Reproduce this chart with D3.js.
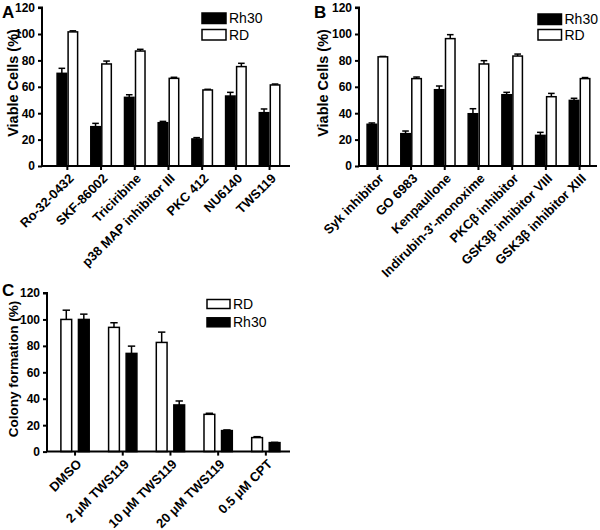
<!DOCTYPE html>
<html><head><meta charset="utf-8">
<script src="https://cdn.jsdelivr.net/npm/d3@7"></script>
<style>
body{margin:0;background:#fff;}
svg{display:block;font-family:Arial,"Liberation Sans",Helvetica,sans-serif;}
</style></head><body>
<svg id="chart" width="600" height="530"></svg>
<script>
// ---- Data ----
const catsA = ["Ro-32-0432","SKF-86002","Triciribine","p38 MAP inhibitor III","PKC 412","NU6140","TWS119"];
const rh30A = [70.2, 29.8, 52, 32.8, 20.5, 53, 40.4];
const rh30AErr = [3.8, 2.5, 2, 1, 1, 2.8, 2.8];
const rdA = [101.6, 77.3, 87.1, 66.4, 57.6, 75.3, 61.4];
const rdAErr = [0.8, 2.2, 1.3, 0.8, 0.5, 2.5, 0.7];

const catsB = ["Syk inhibitor","GO 6983","Kenpaullone","Indirubin-3'-monoxime","PKCβ  inhibitor","GSK3β inhibitor VIII","GSK3β inhibitor XIII"];
const rh30B = [31.6, 24.5, 57.8, 39.6, 54, 23.2, 49.7];
const rh30BErr = [1, 2, 2.8, 3.8, 1.8, 2.3, 1.6];
const rdB = [82.7, 66.2, 96.5, 77.3, 83.3, 52.5, 66.2];
const rdBErr = [0.3, 1.2, 3, 2.5, 1.5, 2.5, 0.8];

const catsC = ["DMSO","2 μM TWS119","10 μM TWS119","20 μM TWS119","0.5  μM CPT"];
const rdC = [100, 94, 82.6, 28.2, 10.6];
const rdCErr = [7, 3.5, 7.8, 0.8, 0.7];
const rh30C = [100, 74.3, 35.3, 15.9, 6.8];
const rh30CErr = [4, 5.5, 3, 0.5, 0.2];

const yTicks = [0, 20, 40, 60, 80, 100, 120];

const svg = d3.select("#chart");

function panel(cfg){
  const g = svg.append("g");
  const y = d3.scaleLinear().domain([0,120]).range([cfg.y0, cfg.y1]);
  const x = d3.scaleBand().domain(cfg.cats).range(cfg.xr).padding(0);
  const xs = d3.scaleBand().domain(cfg.series.map(s=>s.name)).range([0, x.bandwidth()])
    .paddingInner(cfg.pi).paddingOuter(cfg.po);

  // bars
  cfg.series.forEach(s=>{
    const sg = g.append("g");
    cfg.cats.forEach((c,i)=>{
      const bx = x(c) + xs(s.name);
      const bw = xs.bandwidth();
      const v = s.vals[i], e = s.errs[i];
      const cx = bx + bw/2;
      sg.append("line").attr("x1",cx).attr("x2",cx).attr("y1",y(v)).attr("y2",y(v+e))
        .attr("stroke","#000").attr("stroke-width",1.5);
      sg.append("line").attr("x1",cx-bw*0.3).attr("x2",cx+bw*0.3).attr("y1",y(v+e)).attr("y2",y(v+e))
        .attr("stroke","#000").attr("stroke-width",1.5);
      sg.append("rect").attr("x",bx+0.75).attr("width",bw-1.5)
        .attr("y",y(v)).attr("height",y(0)-y(v))
        .attr("fill",s.fill).attr("stroke","#000").attr("stroke-width",1.5);
    });
  });

  // y axis
  const ya = g.append("g").attr("transform",`translate(${cfg.ax},0)`)
    .call(d3.axisLeft(y).tickValues(yTicks).tickSize(4).tickPadding(3));
  ya.select(".domain").attr("stroke-width",2).attr("d",`M-4,${y(120)}H0V${y(0)}`);
  ya.selectAll(".tick line").attr("stroke-width",2);
  ya.selectAll(".tick text").attr("font-size",12).attr("font-weight","bold").attr("fill","#000")
    .attr("font-family","Arial, Liberation Sans, sans-serif");

  // x axis
  const xa = g.append("g").attr("transform",`translate(0,${cfg.y0})`)
    .call(d3.axisBottom(x).tickSize(4).tickSizeOuter(0).tickFormat(""));
  xa.select(".domain").attr("stroke-width",2).attr("d",`M${cfg.ax-1},0H${cfg.xEnd}`);
  xa.selectAll(".tick line").attr("stroke-width",2);
  g.append("g").selectAll("text").data(cfg.cats).join("text")
    .attr("transform",d=>`translate(${x(d)+x.bandwidth()/2+4},${cfg.y0+10}) rotate(-45)`)
    .attr("text-anchor","end").attr("dy","0.35em")
    .attr("font-size",13).attr("font-weight","bold").text(d=>d);

  // y title
  g.append("text").attr("transform",`translate(${cfg.titleX},${cfg.titleY}) rotate(-90)`)
    .attr("text-anchor","middle").attr("dy","0.35em")
    .attr("font-size",cfg.titleSize).attr("font-weight","bold").text(cfg.title);

  // panel letter
  g.append("text").attr("x",cfg.letter[0]).attr("y",cfg.letter[1])
    .attr("font-size",17).attr("font-weight","bold").text(cfg.letterText);

  // legend
  cfg.series.forEach((s,i)=>{
    const ly = cfg.legend[1] + cfg.legendOrder[i]*cfg.legendGap;
    g.append("rect").attr("x",cfg.legend[0]).attr("y",ly).attr("width",cfg.legendW).attr("height",cfg.legendH)
      .attr("fill",s.fill).attr("stroke","#000").attr("stroke-width",1.5);
    g.append("text").attr("x",cfg.legend[0]+cfg.legendW+3).attr("y",ly+cfg.legendH/2).attr("dy","0.36em")
      .attr("font-size",14).text(s.name);
  });
}

panel({
  cats: catsA, y0:166, y1:7.6, ax:42, xEnd:290, xr:[50.5,286.4], pi:0, po:0.53,
  series:[{name:"Rh30",vals:rh30A,errs:rh30AErr,fill:"#000"},{name:"RD",vals:rdA,errs:rdAErr,fill:"#fff"}],
  title:"Viable Cells (%)", titleX:12.5, titleY:83, titleSize:14.5, letter:[2,18], letterText:"A",
  legend:[202,13], legendW:24, legendH:10.5, legendGap:16.5, legendOrder:[0,1]
});
panel({
  cats: catsB, y0:166, y1:7.6, ax:359, xEnd:597, xr:[360.5,596.4], pi:0, po:0.53,
  series:[{name:"Rh30",vals:rh30B,errs:rh30BErr,fill:"#000"},{name:"RD",vals:rdB,errs:rdBErr,fill:"#fff"}],
  title:"Viable Cells (%)", titleX:323, titleY:83, titleSize:14.5, letter:[314,18], letterText:"B",
  legend:[538,14], legendW:23.5, legendH:10.5, legendGap:15.5, legendOrder:[0,1]
});
panel({
  cats: catsC, y0:451.6, y1:293, ax:47, xEnd:290, xr:[51.2,289.7], pi:0.3, po:0.51,
  series:[{name:"RD",vals:rdC,errs:rdCErr,fill:"#fff"},{name:"Rh30",vals:rh30C,errs:rh30CErr,fill:"#000"}],
  title:"Colony formation (%)", titleX:13, titleY:369, titleSize:13.5, letter:[2,296], letterText:"C",
  legend:[207,299.5], legendW:23, legendH:9, legendGap:18.3, legendOrder:[0,1]
});
</script>
</body></html>
